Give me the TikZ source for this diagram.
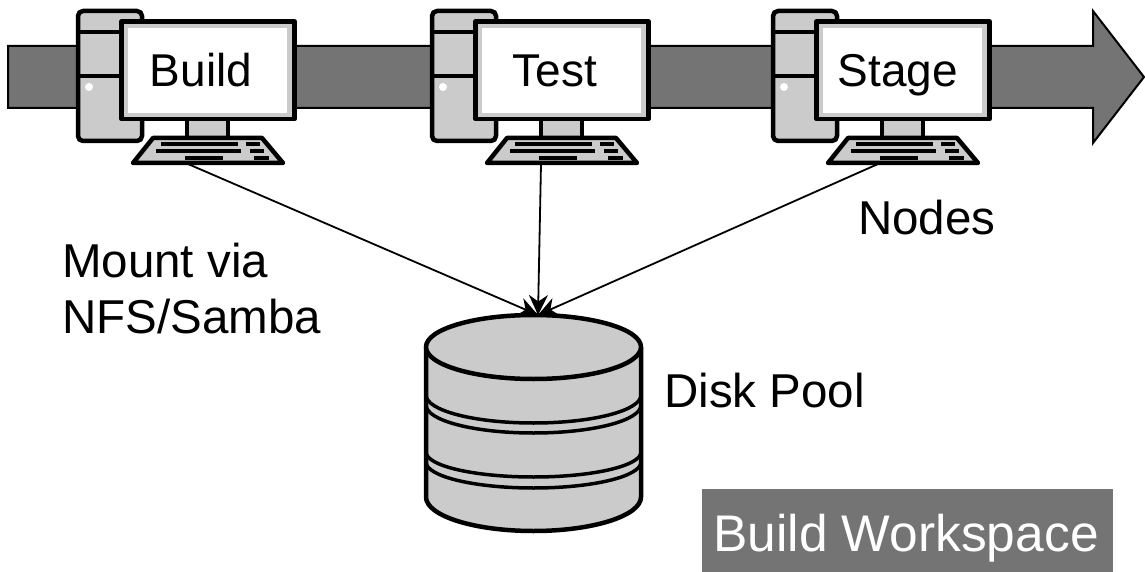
\documentclass[tikz,border=0pt]{standalone}
\usepackage{fontspec}
\setmainfont{Liberation Sans}
\definecolor{bandgray}{HTML}{747474}
\definecolor{partgray}{HTML}{CBCBCB}
\usetikzlibrary{arrows.meta}
\tikzset{
  part/.style={draw=black,line width=4.5pt,fill=partgray,line join=round},
  label/.style={font=\fontsize{46}{52}\selectfont,inner sep=0pt,align=left},
  note/.style={label,font=\fontsize{47.5}{52}\selectfont,anchor=base west},
  link/.style={-{Stealth[length=20pt,width=19pt]},line width=1.8pt},
}
\begin{document}
\begin{tikzpicture}[x=1pt,y=-1pt]
  \useasboundingbox (0,0) rectangle (1145,572);
  \draw[black,line width=2pt,fill=bandgray,line join=miter] (8,46) -- (1093,46) -- (1093,11) -- (1144,77) -- (1093,143) -- (1093,108) -- (8,108) -- cycle;
  \foreach \dx/\name/\lab/\tx/\kx in {0/build/Build/201/188,354/test/Test/201/187,695/stage/Stage/203/183} {
    \begin{scope}[xshift=\dx pt]
      \draw[part,rounded corners=5pt] (78,11) rectangle (142,141);
      \draw[line width=4.5pt] (78,32) -- (122,32);
      \draw[line width=4.5pt] (78,76) -- (122,76);
      \fill[white] (89,87) circle (4);
      \draw[part] (187,119) rectangle (228,138);
      \draw[part] (121.5,21.5) rectangle (294.5,119);
      \fill[white] (127.5,28) rectangle (287,113);
      \node[label,anchor=base] (\name) at (\tx,87) {\lab};
      \draw[part] (153,138) -- (262,138) -- (283,163) -- (133,163) -- cycle;
      \foreach \xa/\xb/\yk in {161/238/144,246/260/144,156/241/151,250/264/151,185/223/158,254/269/158}
        \fill (\xa,\yk-2) rectangle (\xb,\yk+2);
      \coordinate (key\name) at (\kx,164);
    \end{scope}
  }
  \draw[part] (426,347) -- (426,497) arc[start angle=180,end angle=0,x radius=107.5,y radius=34] -- (641,347);
  \draw[part] (533.5,347) ellipse[x radius=107.5,y radius=32];
  \draw[line width=3.5pt] (426,395) arc[start angle=180,end angle=0,x radius=107.5,y radius=28];
  \draw[line width=3.5pt] (426,405) arc[start angle=180,end angle=0,x radius=107.5,y radius=28];
  \draw[line width=3.5pt] (426,452) arc[start angle=180,end angle=0,x radius=107.5,y radius=25];
  \draw[line width=3.5pt] (426,462) arc[start angle=180,end angle=0,x radius=107.5,y radius=26];
  \coordinate (disktop) at (538,315);
  \draw[link] (keybuild) -- (disktop);
  \draw[link] (keytest) -- (disktop);
  \draw[link] (keystage) -- (disktop);
  \node[note] (nodes) at (858,234) {Nodes};
  \node[note] (mount) at (62,277) {Mount via};
  \node[note] (nfs) at (62,333) {NFS/Samba};
  \node[note] (pool) at (664,407) {Disk Pool};
  \fill[bandgray] (702,489) rectangle (1113,572);
  \node[label,anchor=base west,text=white,font=\fontsize{51.5}{56}\selectfont] (workspace) at (713,551) {Build Workspace};
\end{tikzpicture}
\end{document}
